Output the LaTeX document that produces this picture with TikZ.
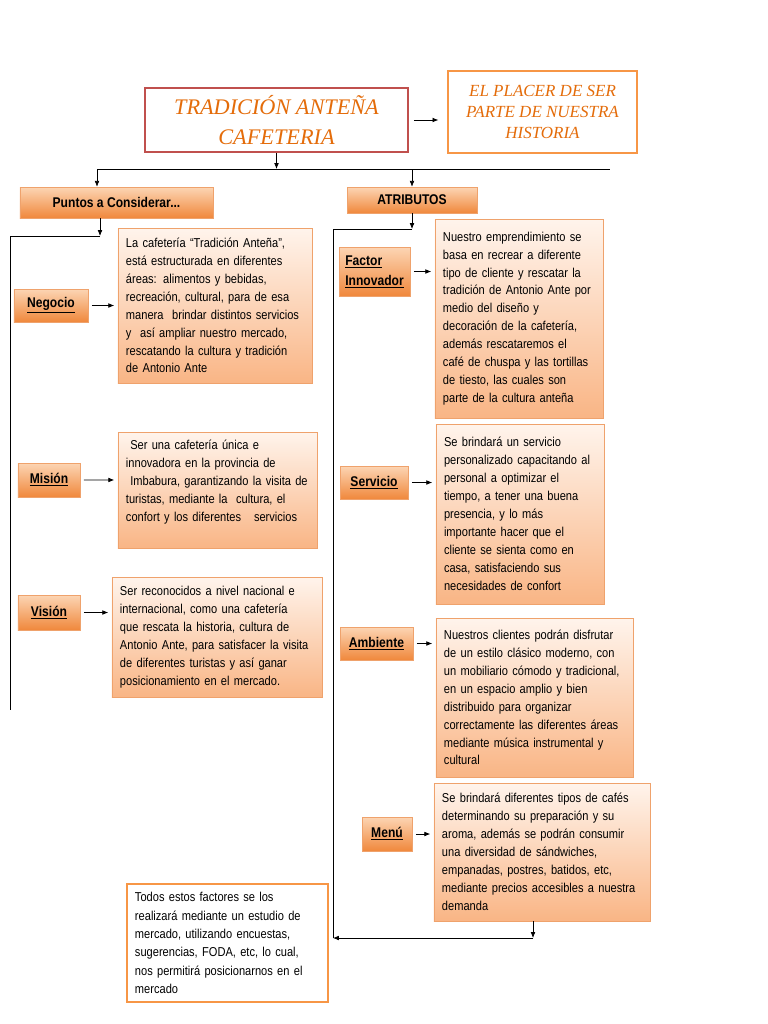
\documentclass[tikz,border=0pt]{standalone}
\usepackage{fontspec}
\setmainfont{Liberation Sans}
\newfontfamily\angosta{Liberation Sans}[FakeStretch=0.86]
\newfontfamily\cursiva{Liberation Serif}
\usetikzlibrary{arrows.meta,shadows}

\definecolor{rojotit}{HTML}{C0504D}
\definecolor{naranja}{HTML}{F79646}
\definecolor{letranar}{HTML}{E46C0A}
\definecolor{peachtop}{HTML}{FFF4EC}
\definecolor{peachbot}{HTML}{F9B585}
\definecolor{peachline}{HTML}{EFA26C}
\definecolor{tabtop}{HTML}{FCD5B4}
\definecolor{tabbot}{HTML}{F0883C}

\tikzset{
  linea/.style={line width=0.6pt},
  flecha/.style={linea,-{Latex[length=5pt,width=4pt]}},
  flechita/.style={flecha,shorten <=3pt,shorten >=3pt},
  sombra/.style={drop shadow={shadow xshift=0.8pt,shadow yshift=-1.2pt,fill=black!60,opacity=.45}},
  titulo/.style={draw=rojotit,line width=2.2pt,fill=white,align=center,text=letranar,
    font=\cursiva\itshape\fontsize{19}{25}\selectfont},
  lema/.style={draw=naranja,line width=2.4pt,fill=white,align=center,text=letranar,
    font=\cursiva\itshape\fontsize{14.5}{18.3}\selectfont},
  cabecera/.style={draw=peachline,line width=0.4pt,top color=tabtop,bottom color=tabbot,sombra,
    font=\angosta\bfseries\fontsize{12}{14}\selectfont},
  etiqueta/.style={cabecera,align=left,font=\angosta\bfseries\fontsize{12}{17}\selectfont},
  texto/.style={draw=peachline,line width=0.4pt,top color=peachtop,bottom color=peachbot,sombra,
    align=left,inner xsep=0.24cm,font=\angosta\fontsize{11}{15.3}\selectfont},
  cierre/.style={draw=naranja,line width=1.8pt,fill=white,align=left,inner xsep=0.24cm,
    font=\angosta\fontsize{11}{15.6}\selectfont}
}

\begin{document}
\begin{tikzpicture}[x=0.03cm,y=-0.03cm]
\useasboundingbox[fill=white] (0,0) rectangle (768,1024);

% cabecera
\node[titulo,minimum width=7.89cm,minimum height=1.92cm] (titulo) at (276.5,120) {TRADICIÓN ANTEÑA\\CAFETERIA};
\node[lema,minimum width=5.67cm,minimum height=2.46cm] (lema) at (542.5,112) {EL PLACER DE SER\\PARTE DE NUESTRA\\HISTORIA};
\draw[flecha,shorten <=4pt,shorten >=7pt] (titulo.east) -- (titulo.east -| lema.west);

% linea de reparto
\coordinate (busL) at (97,169);
\coordinate (busR) at (610,169);
\draw[linea] (busL) -- (busR);
\draw[flecha] (titulo.south) -- (titulo.south |- busL);

\node[cabecera,minimum width=5.79cm,minimum height=0.93cm] (puntos) at (116.5,202.5) {Puntos a Considerar...};
\node[cabecera,minimum width=3.9cm,minimum height=0.78cm] (atributos) at (412,200) {ATRIBUTOS};
\draw[flecha] (busL) -- (busL |- puntos.north);
\draw[flecha] (busL -| atributos.north) -- (atributos.north);

% columna izquierda
\coordinate (puntosA) at (100,236);
\coordinate (finIzq) at (10,710);
\draw[flecha] (puntos.south -| puntosA) -- (puntosA);
\draw[linea] (puntosA) -| (finIzq);

\node[etiqueta,minimum width=2.22cm,minimum height=0.99cm] (negocio) at (51,305.5) {\underline{Negocio}};
\node[texto,text width=5.34cm,minimum height=4.65cm] (negdesc) at (215,305.5) {La cafetería “Tradición Anteña”,\\está estructurada en diferentes\\áreas: alimentos y bebidas,\\recreación, cultural, para de esa\\manera\ \ brindar distintos servicios\\y\ \ así ampliar nuestro mercado,\\rescatando la cultura y tradición\\de Antonio Ante};
\draw[flechita] (negocio.east) -- (negocio.east -| negdesc.west);

\node[etiqueta,minimum width=1.86cm,minimum height=1.02cm] (mision) at (49,480) {\underline{Misión}};
\node[texto,text width=5.49cm,minimum height=3.48cm] (misdesc) at (217.5,490) {\ Ser una cafetería única e\\innovadora en la provincia de\\\ Imbabura, garantizando la visita de\\turistas, mediante la\ \ cultura, el\\confort y los diferentes\ \ \ servicios\\\mbox{}};
\draw[flechita] (mision.east) ++(0,-0.1) -- (mision.east -| misdesc.west);

\node[etiqueta,minimum width=1.86cm,minimum height=1.05cm] (vision) at (49,612.5) {\underline{Visión}};
\node[texto,text width=5.82cm,minimum height=3.6cm] (visdesc) at (217,637) {Ser reconocidos a nivel nacional e\\internacional, como una cafetería\\que rescata la historia, cultura de\\Antonio Ante, para satisfacer la visita\\de diferentes turistas y así ganar\\posicionamiento en el mercado.};
\draw[flechita] (vision.east) -- (vision.east -| visdesc.west);

% columna derecha
\coordinate (atribA) at (412,229);
\coordinate (finDer) at (333,938);
\draw[flecha] (atributos.south) -- (atribA);
\draw[linea] (atribA) -| (finDer);

\node[etiqueta,minimum width=2.13cm,minimum height=1.47cm] (factor) at (374.5,271.5) {\underline{Factor}\\\underline{Innovador}};
\node[texto,text width=4.56cm,minimum height=5.97cm] (facdesc) at (519,318.5) {Nuestro emprendimiento se\\basa en recrear a diferente\\tipo de cliente y rescatar la\\tradición de Antonio Ante por\\medio del diseño y\\decoración de la cafetería,\\además rescataremos el\\café de chuspa y las tortillas\\de tiesto, las cuales son\\parte de la cultura anteña};
\draw[flechita] (factor.east) -- (factor.east -| facdesc.west);

\node[etiqueta,minimum width=2.04cm,minimum height=0.99cm] (servicio) at (374,482.5) {\underline{Servicio}};
\node[texto,text width=4.56cm,minimum height=5.4cm] (serdesc) at (520,514) {Se brindará un servicio\\personalizado capacitando al\\personal a optimizar el\\tiempo, a tener una buena\\presencia, y lo más\\importante hacer que el\\cliente se sienta como en\\casa, satisfaciendo sus\\necesidades de confort};
\draw[flechita] (servicio.east) -- (servicio.east -| serdesc.west);

\node[etiqueta,minimum width=2.19cm,minimum height=0.99cm] (ambiente) at (376.5,643.5) {\underline{Ambiente}};
\node[texto,text width=5.43cm,minimum height=4.77cm] (ambdesc) at (534.5,697.5) {Nuestros clientes podrán disfrutar\\de un estilo clásico moderno, con\\un mobiliario cómodo y tradicional,\\en un espacio amplio y bien\\distribuido para organizar\\correctamente las diferentes áreas\\mediante música instrumental y\\cultural};
\draw[flechita] (ambiente.east) -- (ambiente.east -| ambdesc.west);

\node[etiqueta,minimum width=1.5cm,minimum height=1.02cm] (menu) at (387,834) {\underline{Menú}};
\node[texto,text width=6cm,minimum height=4.14cm] (mendesc) at (542,852) {Se brindará diferentes tipos de cafés\\determinando su preparación y su\\aroma, además se podrán consumir\\una diversidad de sándwiches,\\empanadas, postres, batidos, etc,\\mediante precios accesibles a nuestra\\demanda};
\draw[flechita] (menu.east) -- (menu.east -| mendesc.west);

% cierre
\node[cierre,text width=5.55cm,minimum height=3.54cm] (todos) at (227.5,943) {Todos estos factores se los\\realizará mediante un estudio de\\mercado, utilizando encuestas,\\sugerencias, FODA, etc, lo cual,\\nos permitirá posicionarnos en el\\mercado};
\coordinate (menuA) at (533,938);
\draw[flecha] (mendesc.south -| menuA) -- (menuA);
\draw[flecha] (menuA) -- (finDer);
\end{tikzpicture}
\end{document}
